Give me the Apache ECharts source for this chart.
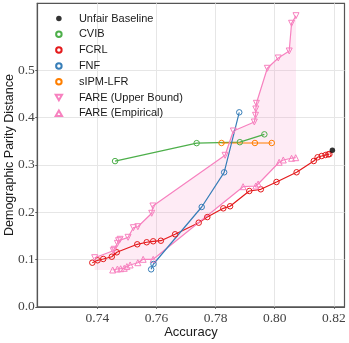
<!DOCTYPE html>
<html>
<head>
<meta charset="utf-8">
<script src="https://cdn.jsdelivr.net/npm/echarts@6/dist/echarts.min.js"></script>
<style>
  html, body { margin: 0; padding: 0; background: #fff; }
  #chart { width: 349px; height: 343px; }
</style>
</head>
<body>
<div id="chart"></div>
<script>
// tick labels
const xTicks = [0.74, 0.76, 0.78, 0.80, 0.82];
const yTicks = [0.0, 0.1, 0.2, 0.3, 0.4, 0.5];

// values (accuracy, demographic parity distance)
const baselineAcc = [0.8195];
const baselineDpd = [0.331];

const cvibAcc = [0.746, 0.7736, 0.7882, 0.7965];
const cvibDpd = [0.308, 0.346, 0.348, 0.3646];

const fcrlAcc = [0.7383, 0.7401, 0.7420, 0.7449, 0.7466, 0.7535, 0.7567, 0.7589, 0.7615, 0.7663,
  0.7743, 0.7772, 0.7826, 0.7849, 0.7914, 0.7953, 0.8006, 0.8074, 0.8132, 0.8145, 0.8159, 0.8172, 0.8181, 0.8185];
const fcrlDpd = [0.0932, 0.0983, 0.1011, 0.1059, 0.1152, 0.1321, 0.1364, 0.1385, 0.1397, 0.1533,
  0.1778, 0.1897, 0.2082, 0.2125, 0.2448, 0.2484, 0.2638, 0.2844, 0.3082, 0.3161, 0.3188, 0.3209, 0.3224, 0.3226];

const fnfAcc = [0.7582, 0.7590, 0.7753, 0.7829, 0.7880];
const fnfDpd = [0.0792, 0.0905, 0.2110, 0.2843, 0.4111];

const sipmAcc = [0.7820, 0.7933, 0.7990];
const sipmDpd = [0.3463, 0.3463, 0.3463];

const fareUpAcc = [0.7391, 0.7454, 0.7457, 0.7468, 0.7472, 0.7477, 0.7504, 0.7522, 0.7537, 0.7584, 0.7588,
  0.7832, 0.7860, 0.7931, 0.7935, 0.7936, 0.7938, 0.7975, 0.8012, 0.8049, 0.8057, 0.8072];
const fareUpDpd = [0.1038, 0.1186, 0.1216, 0.1342, 0.1397, 0.1427, 0.1469, 0.1672, 0.1693, 0.1977, 0.2131,
  0.3203, 0.3717, 0.3907, 0.4049, 0.4182, 0.4302, 0.5042, 0.5260, 0.5408, 0.5994, 0.6154];

const fareEmpAcc = [0.7452, 0.7468, 0.7479, 0.7491, 0.7500, 0.7511, 0.7537, 0.7555, 0.7589,
  0.7893, 0.7936, 0.7944, 0.8015, 0.8029, 0.8057, 0.8071];
const fareEmpDpd = [0.0778, 0.0799, 0.0805, 0.0814, 0.0850, 0.0884, 0.0932, 0.1004, 0.1004,
  0.2539, 0.2554, 0.2596, 0.3055, 0.3104, 0.3140, 0.3152];

const zip = (xs, ys) => xs.map((x, i) => [x, ys[i]]);

const RED = '#e41a1c', BLUE = '#377eb8', GREEN = '#4daf4a', ORANGE = '#ff7f00', PINK = '#f781bf';
const DOWN = 'path://M0,0L10,0L5,8.66Z';
const UP = 'path://M5,0L10,8.66L0,8.66Z';

function lineSeries(name, xs, ys, color, symbol, size) {
  return {
    name: name,
    type: 'line',
    data: zip(xs, ys),
    symbol: symbol,
    symbolSize: size,
    lineStyle: { color: color, width: 1.2 },
    itemStyle: { color: 'rgba(0,0,0,0)', borderColor: color, borderWidth: 1 },
    emphasis: { disabled: true },
    z: 3
  };
}

const chart = echarts.init(document.getElementById('chart'));

const option = {
  animation: false,
  backgroundColor: '#fff',
  grid: {
    left: 37.3, right: 4.5, top: 3.3, bottom: 36.2,
    outerBoundsMode: 'none',
    containLabel: false,
    show: true, borderColor: '#555', borderWidth: 1.2
  },
  legend: {
    orient: 'vertical',
    left: 49.7, top: 7.5,
    itemWidth: 16, itemHeight: 5.5, itemGap: 3.8,
    textStyle: { fontFamily: 'Liberation Sans', fontSize: 11, color: '#1a1a1a', lineHeight: 12, padding: [0, 0, 0, 7] },
    data: [
      { name: 'Unfair Baseline', icon: 'circle' },
      { name: 'CVIB', icon: 'circle' },
      { name: 'FCRL', icon: 'circle' },
      { name: 'FNF', icon: 'circle' },
      { name: 'sIPM-LFR', icon: 'circle' },
      { name: 'FARE (Upper Bound)', icon: DOWN },
      { name: 'FARE (Empirical)', icon: UP }
    ]
  },
  xAxis: {
    type: 'value',
    min: 0.7197, max: 0.8236,
    name: 'Accuracy',
    nameLocation: 'middle',
    nameGap: 18.7,
    nameMoveOverlap: false,
    nameTextStyle: { fontFamily: 'Liberation Sans', fontSize: 13, color: '#1a1a1a' },
    axisLine: { lineStyle: { color: '#555', width: 1.2 } },
    axisTick: { show: true, length: 2, lineStyle: { color: '#555' }, customValues: xTicks },
    axisLabel: {
      customValues: xTicks,
      formatter: v => v.toFixed(2),
      fontFamily: 'Liberation Serif', fontSize: 13.5, color: '#444', margin: 4.7
    },
    splitLine: { show: true, lineStyle: { color: '#e6e6e6', width: 1 } }
  },
  yAxis: {
    type: 'value',
    min: 0, max: 0.6416,
    name: 'Demographic Parity Distance',
    nameLocation: 'middle',
    nameGap: 21.3,
    nameMoveOverlap: false,
    nameTextStyle: { fontFamily: 'Liberation Sans', fontSize: 12.5, color: '#1a1a1a' },
    axisLine: { show: true, lineStyle: { color: '#555', width: 1.2 } },
    axisTick: { show: true, length: 2, lineStyle: { color: '#555' }, customValues: yTicks },
    axisLabel: {
      customValues: yTicks,
      formatter: v => v.toFixed(1),
      fontFamily: 'Liberation Serif', fontSize: 13.5, color: '#444', margin: 2.5
    },
    splitLine: { show: true, lineStyle: { color: '#e6e6e6', width: 1 } }
  },
  series: [
    {
      // shaded band between the FARE upper bound and empirical curves
      type: 'custom',
      silent: true,
      z: 1,
      data: [[fareUpAcc[0], fareUpDpd[0]]],
      renderItem: function (params, api) {
        const pts = [];
        fareUpAcc.forEach((x, i) => pts.push(api.coord([x, fareUpDpd[i]])));
        pts.push(api.coord([fareUpAcc[fareUpAcc.length - 1], fareEmpDpd[fareEmpDpd.length - 1]]));
        for (let i = fareEmpAcc.length - 1; i >= 0; i--) pts.push(api.coord([fareEmpAcc[i], fareEmpDpd[i]]));
        pts.push(api.coord([fareUpAcc[0], fareEmpDpd[0]]));
        return {
          type: 'polygon',
          shape: { points: pts },
          style: { fill: 'rgba(247,129,191,0.16)', stroke: null }
        };
      }
    },
    lineSeries('CVIB', cvibAcc, cvibDpd, GREEN, 'circle', 5.5),
    lineSeries('FCRL', fcrlAcc, fcrlDpd, RED, 'circle', 5.5),
    lineSeries('sIPM-LFR', sipmAcc, sipmDpd, ORANGE, 'circle', 5.5),
    lineSeries('FARE (Upper Bound)', fareUpAcc, fareUpDpd, PINK, DOWN, 6),
    lineSeries('FARE (Empirical)', fareEmpAcc, fareEmpDpd, PINK, UP, 6),
    lineSeries('FNF', fnfAcc, fnfDpd, BLUE, 'circle', 5.5),
    {
      name: 'Unfair Baseline',
      type: 'scatter',
      data: zip(baselineAcc, baselineDpd),
      symbol: 'circle',
      symbolSize: 5.5,
      itemStyle: { color: '#000' },
      z: 4
    }
  ]
};

chart.setOption(option);
</script>
</body>
</html>
